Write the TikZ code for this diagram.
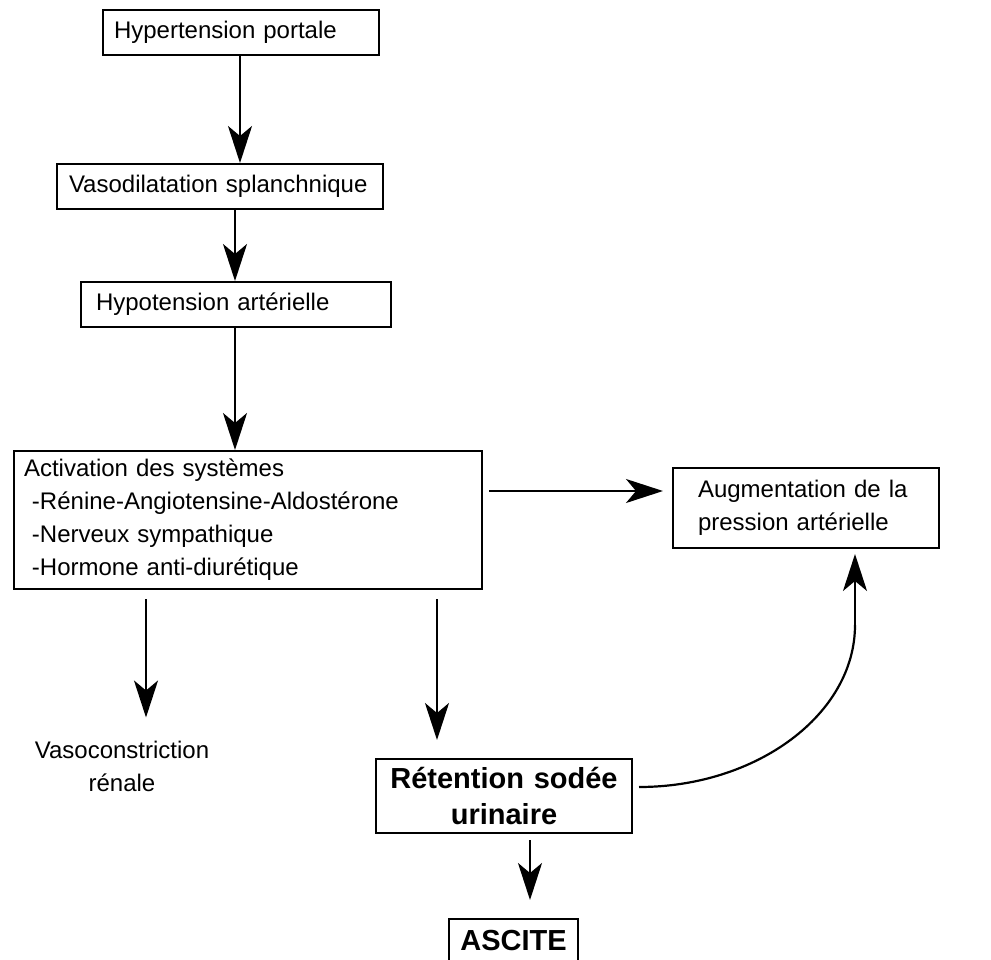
\documentclass[tikz,border=0pt]{standalone}
\usepackage{fontspec}
\setmainfont{Liberation Sans}
\usetikzlibrary{arrows.meta}
\begin{document}
\begin{tikzpicture}[x=1pt,y=-1pt,
  box/.style={draw, line width=2pt, inner ysep=0pt, font=\fontsize{24}{33}\selectfont, align=left, anchor=north west},
  boldbox/.style={box, font=\fontsize{29}{36}\selectfont\bfseries, align=center},
  plain/.style={font=\fontsize{24}{33}\selectfont, align=center, inner sep=0pt},
  arr/.style={line width=2.2pt, -{Stealth[length=37pt,width=24pt,inset=10pt]}},
  conn/.style={line width=2.2pt},
]
\clip (0,0) rectangle (991,959);
\fill[white] (0,0) rectangle (991,959);

\node[box, inner xsep=11pt, text width=254pt, minimum height=45pt] (b1) at (102,9) {Hypertension portale};
\node[box, inner xsep=12pt, text width=302pt, minimum height=45pt] (b2) at (56,163) {Vasodilatation splanchnique};
\node[box, inner xsep=15pt, text width=280pt, minimum height=45pt] (b3) at (80,281) {Hypotension artérielle};
\node[box, inner xsep=10pt, text width=448pt, minimum height=138pt] (b4) at (13,450) {Activation des systèmes\\ \ -Rénine-Angiotensine-Aldostérone\\ \ -Nerveux sympathique\\ \ -Hormone anti-diurétique};
\node[box, inner xsep=25pt, text width=216pt, minimum height=80pt] (b5) at (672,467) {Augmentation de la\\pression artérielle};
\node[plain] (vc) at (122,766) {Vasoconstriction\\rénale};
\node[boldbox, inner xsep=5pt, text width=246pt, minimum height=74pt] (b6) at (375,758) {Rétention sodée\\urinaire};
\node[boldbox, inner xsep=5pt, text width=119pt, minimum height=44pt] (b7) at (448,918) {ASCITE};

\coordinate (x1) at (240,0);
\coordinate (x2) at (235,0);
\coordinate (y4) at (0,491);
\coordinate (x5) at (146,0);
\coordinate (x6) at (437,0);
\coordinate (x7) at (530,0);
\coordinate (cs) at (637,787);
\coordinate (cm) at (855,625);

\draw[arr] (b1.south -| x1) -- (b2.north -| x1);
\draw[arr] (b2.south -| x2) -- (b3.north -| x2);
\draw[arr] (b3.south -| x2) -- (b4.north -| x2);
\draw[arr, shorten <=6pt, shorten >=9pt] (b4.east |- y4) -- (b5.west |- y4);
\draw[arr, shorten <=9pt, shorten >=23pt] (b4.south -| x5) -- (vc.north -| x5);
\draw[arr, shorten <=9pt, shorten >=18pt] (b4.south -| x6) -- (b6.north -| x6);
\draw[arr, shorten <=6pt, shorten >=18pt] (b6.south -| x7) -- (b7.north -| x7);
\draw[conn, shorten <=6pt] (b6.east |- cs) .. controls (757,787) and (855,714) .. (cm);
\draw[arr, shorten >=5pt] (cm) -- (b5.south -| cm);
\end{tikzpicture}
\end{document}
